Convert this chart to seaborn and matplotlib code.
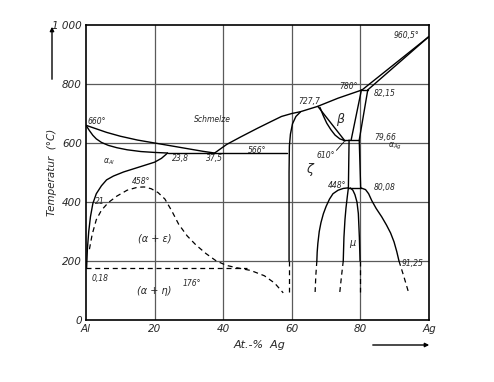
import matplotlib
matplotlib.use("Agg")
import matplotlib.pyplot as plt
import seaborn as sns

# ---- data (at.-% Ag, temperature °C) ----
liq_al_x = [0, 3, 6, 10, 15, 20, 25, 30, 34, 37.5]
liq_al_y = [660, 648, 636, 623, 610, 600, 590, 580, 572, 566]
sol_al_x = [0, 1, 2, 3, 4.5, 6.5, 9, 12, 16, 20, 23.8]
sol_al_y = [660, 642, 626, 614, 602, 592, 584, 577, 571, 568, 566]
solv_al_x = [23.8, 22, 20, 17, 14, 11, 8, 6, 4.5, 3, 2, 1.3, 0.8, 0.4, 0.18]
solv_al_y = [566, 548, 535, 524, 513, 502, 488, 475, 455, 428, 395, 350, 300, 240, 176]
eut_x = [23.8, 58.6]
eut_y = [566, 566]
liq_r_x = [37.5, 41, 45, 50, 54, 57, 60, 62.5, 67.5, 73.5, 80.5]
liq_r_y = [566, 595, 620, 650, 673, 690, 700, 706, 724, 752, 780]
liq_ag_x = [80.5, 100]
liq_ag_y = [780, 961]
sol_ag_x = [82.15, 100]
sol_ag_y = [780, 961]
perit_x = [80.5, 82.15]
perit_y = [780, 780]
zeta_l_x = [62.5, 61.2, 60.2, 59.6, 59.3, 59.2, 59.2]
zeta_l_y = [705, 690, 665, 630, 590, 500, 200]
zeta_l_dx = [59.2, 59.2]
zeta_l_dy = [200, 95]
beta_a_x = [67.6, 75.5]
beta_a_y = [724, 607]
beta_b_x = [68.2, 69.2, 70.2, 71.4, 72.6, 74.0, 75.0]
beta_b_y = [721, 692, 667, 645, 627, 614, 610]
beta_r_x = [80.3, 77.3]
beta_r_y = [780, 610]
eutd_x = [75.0, 79.66]
eutd_y = [610, 610]
agb_x = [82.15, 79.66, 80.08]
agb_y = [780, 610, 448]
zeta_r_x = [76.7, 76.5]
zeta_r_y = [610, 448]
h448_x = [76.5, 80.08]
h448_y = [448, 448]
dome_l_x = [76.5, 75, 73.5, 72, 71, 70, 69.2, 68.5, 68, 67.6, 67.4, 67.3]
dome_l_y = [448, 446, 440, 428, 410, 385, 360, 330, 300, 260, 230, 200]
dome_l_dx = [67.3, 67.0, 66.8]
dome_l_dy = [200, 150, 95]
dome_r_x = [80.08, 81.5, 82.4, 83.3, 84.6, 86.2, 87.6, 88.8, 89.8, 90.6, 91.25]
dome_r_y = [448, 442, 428, 405, 378, 350, 322, 295, 265, 232, 200]
dome_r_dx = [91.25, 92.6, 94]
dome_r_dy = [200, 150, 95]
mu_l_x = [76.5, 76.2, 75.8, 75.5, 75.2, 75.0]
mu_l_y = [448, 420, 380, 340, 280, 200]
mu_l_dx = [75.0, 74.5, 74.0]
mu_l_dy = [200, 150, 95]
mu_r_x = [77.0, 77.8, 78.4, 79.0, 79.4, 79.7, 79.9]
mu_r_y = [448, 440, 425, 400, 361, 280, 200]
mu_r_dx = [79.9, 79.9]
mu_r_dy = [200, 95]
gp_x = [1.0, 1.8, 3, 4.5, 6.5, 9, 12, 15, 17, 19, 21, 23, 25, 27, 29.5, 32, 35, 38,
        41, 44, 48, 52, 55, 57.5]
gp_y = [240, 290, 340, 372, 398, 420, 440, 450, 451, 445, 432, 410, 370, 325, 285,
        255, 225, 200, 185, 177, 168, 150, 125, 92]
h176_x = [0, 47]
h176_y = [176, 176]
leader610_x = [73.0, 75.3]
leader610_y = [575, 605]

x_ticks = [0, 20, 40, 60, 80, 100]
x_ticklabels = ["Al", "20", "40", "60", "80", "Ag"]
y_ticks = [0, 200, 400, 600, 800, 1000]
y_ticklabels = ["0", "200", "400", "600", "800", "1 000"]

sns.set_theme(style="white")
plt.rcParams['font.family'] = ['DejaVu Sans']

fig = plt.figure(figsize=(4.94, 3.82), dpi=100)
ax = fig.add_axes([86/494, 1-320/382, (429-86)/494, (320-25)/382])
ax.set_xlim(0, 100)
ax.set_ylim(0, 1000)

for v in x_ticks[1:-1]:
    ax.axvline(v, color="#5a5a5a", lw=0.9, zorder=1)
for v in y_ticks[1:-1]:
    ax.axhline(v, color="#5a5a5a", lw=0.9, zorder=1)

solid = [(liq_al_x, liq_al_y), (sol_al_x, sol_al_y), (solv_al_x, solv_al_y),
         (eut_x, eut_y), (liq_r_x, liq_r_y), (liq_ag_x, liq_ag_y),
         (sol_ag_x, sol_ag_y), (perit_x, perit_y), (zeta_l_x, zeta_l_y),
         (beta_a_x, beta_a_y), (beta_b_x, beta_b_y), (beta_r_x, beta_r_y),
         (eutd_x, eutd_y), (agb_x, agb_y), (zeta_r_x, zeta_r_y),
         (h448_x, h448_y), (dome_l_x, dome_l_y), (dome_r_x, dome_r_y),
         (mu_l_x, mu_l_y), (mu_r_x, mu_r_y)]
dashed = [(zeta_l_dx, zeta_l_dy), (dome_l_dx, dome_l_dy), (dome_r_dx, dome_r_dy),
          (mu_l_dx, mu_l_dy), (mu_r_dx, mu_r_dy), (gp_x, gp_y), (h176_x, h176_y)]

for xs, ys in solid:
    sns.lineplot(x=xs, y=ys, sort=False, estimator=None, color="black", lw=1.0, ax=ax)
for xs, ys in dashed:
    sns.lineplot(x=xs, y=ys, sort=False, estimator=None, color="black", lw=0.9,
                 linestyle=(0, (4, 3)), ax=ax)
sns.lineplot(x=leader610_x, y=leader610_y, sort=False, estimator=None,
             color="black", lw=0.6, ax=ax)

ax.set_xticks(x_ticks)
ax.set_xticklabels(x_ticklabels, fontstyle="italic", fontsize=7.5)
ax.set_yticks(y_ticks)
ax.set_yticklabels(y_ticklabels, fontstyle="italic", fontsize=7.5)
ax.tick_params(length=0, pad=3)
for s in ax.spines.values():
    s.set_color("black")
    s.set_linewidth(1.2)

fs = 5.5
labels = [
    (0.5, 672, "660°", "left"), (37, 680, "Schmelze", "center"),
    (5, 535, "α$_{Al}$", "left"), (25, 548, "23,8", "left"),
    (37.5, 548, "37,5", "center"), (50, 575, "566°", "center"),
    (65, 742, "727,7", "center"), (76.5, 793, "780°", "center"),
    (93.5, 966, "960,5°", "center"), (84, 767, "82,15", "left"),
    (84, 620, "79,66", "left"), (88, 590, "α$_{Ag}$", "left"),
    (72.5, 557, "610°", "right"), (76, 455, "448°", "right"),
    (84, 450, "80,08", "left"), (92, 190, "91,25", "left"),
    (31, 125, "176°", "center"), (1.5, 140, "0,18", "left"),
    (2.5, 400, "21", "left"), (16, 468, "458°", "center"),
]
for x, y, t, ha in labels:
    ax.text(x, y, t, fontsize=fs, fontstyle="italic", ha=ha, va="center")
ax.text(74, 680, "β", fontsize=9, fontstyle="italic", ha="center", va="center")
ax.text(65, 510, "ζ", fontsize=9, fontstyle="italic", ha="center", va="center")
ax.text(77.5, 260, "μ", fontsize=7, fontstyle="italic", ha="center", va="center")
ax.text(20, 275, "(α + ε)", fontsize=7, fontstyle="italic", ha="center", va="center")
ax.text(20, 100, "(α + η)", fontsize=7, fontstyle="italic", ha="center", va="center")

fig.text(52/494, 1-172/382, "Temperatur  (°C)", rotation=90, fontsize=7.5,
         fontstyle="italic", ha="center", va="center")
fig.add_artist(matplotlib.patches.FancyArrowPatch(
    (52/494, 1-82/382), (52/494, 1-24/382), transform=fig.transFigure,
    arrowstyle="-|>", mutation_scale=6, color="black", lw=1.0))
fig.text(260/494, 1-345/382, "At.-%  Ag", fontsize=8, fontstyle="italic",
         ha="center", va="center")
fig.add_artist(matplotlib.patches.FancyArrowPatch(
    (370/494, 1-345/382), (432/494, 1-345/382), transform=fig.transFigure,
    arrowstyle="-|>", mutation_scale=6, color="black", lw=1.0))

fig.savefig("out.png", dpi=100)
